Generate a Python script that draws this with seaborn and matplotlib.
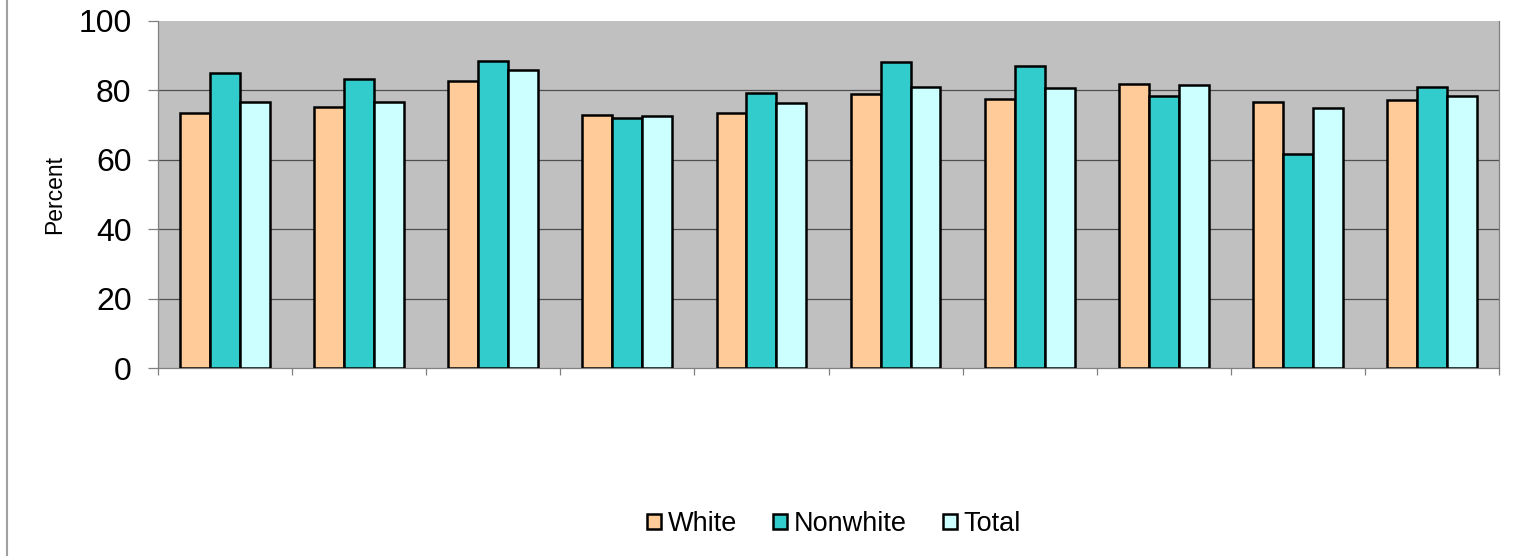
import matplotlib
matplotlib.use('Agg')
import matplotlib.pyplot as plt
import pandas as pd
import seaborn as sns
from matplotlib.lines import Line2D
from matplotlib.ticker import FixedLocator, NullFormatter

sns.set_theme(style='white')
plt.rcParams['font.family'] = ['Liberation Sans', 'DejaVu Sans']
plt.rcParams['text.color'] = 'black'
plt.rcParams['axes.labelcolor'] = 'black'

groups = ['G1', 'G2', 'G3', 'G4', 'G5', 'G6', 'G7', 'G8', 'G9', 'G10']
white = [73.4, 75.3, 82.8, 72.9, 73.5, 78.9, 77.4, 81.8, 76.6, 77.1]
nonwhite = [84.9, 83.2, 88.5, 72.1, 79.3, 88.2, 86.9, 78.5, 61.6, 81.0]
total = [76.6, 76.6, 85.8, 72.5, 76.3, 81.0, 80.7, 81.5, 75.0, 78.3]
series = ['White', 'Nonwhite', 'Total']
colors = ['#FFCC99', '#33CCCC', '#CCFFFF']

df = pd.DataFrame({'group': groups * 3,
                   'value': white + nonwhite + total,
                   'series': [s for s in series for _ in groups]})

fig = plt.figure(figsize=(15.16, 5.56), dpi=100)
ax = fig.add_axes([158 / 1516, 1 - 368 / 556, (1499 - 158) / 1516, (368 - 21) / 556])
ax.set_facecolor('#C0C0C0')

sns.barplot(data=df, x='group', y='value', hue='series', palette=colors, saturation=1,
            width=0.67, edgecolor='black', linewidth=1.8, ax=ax, zorder=3)

ax.set_ylim(0, 100)
ax.set_xlim(-0.5, len(groups) - 0.5)
ax.set_yticks([0, 20, 40, 60, 80, 100])
for yv in [20, 40, 60, 80]:
    ax.axhline(yv, color='#505050', linewidth=0.9, zorder=1)

ax.set_xticks([])
ax.xaxis.set_minor_locator(FixedLocator([i - 0.5 for i in range(len(groups) + 1)]))
ax.xaxis.set_minor_formatter(NullFormatter())
ax.tick_params(axis='x', which='minor', bottom=True, length=5, width=0.9, color='#808080', direction='out')
ax.tick_params(axis='y', left=True, length=7, width=0.9, color='#808080', direction='out',
               labelsize=23, pad=12, labelcolor='black')

for side in ['left', 'bottom', 'right', 'top']:
    ax.spines[side].set_color('#808080')
    ax.spines[side].set_linewidth(0.9)
ax.spines['top'].set_visible(False)

ax.set_xlabel('')
ax.set_ylabel('Percent', fontsize=16.5, labelpad=9, color='black')

ax.legend_.remove()
handles = [plt.Rectangle((0, 0), 1, 1, facecolor=c, edgecolor='black', linewidth=1.8) for c in colors]
fig.legend(handles, series, loc='center', bbox_to_anchor=(834 / 1516, 1 - 524 / 556), ncol=3,
           frameon=False, fontsize=19.5, handlelength=0.5, handleheight=0.5,
           handletextpad=0.25, columnspacing=1.35, labelcolor='black')

fig.add_artist(Line2D([7 / 1516, 7 / 1516], [0, 1], color='#A0A0A0', linewidth=1.5))

fig.savefig('out.png', dpi=100)
